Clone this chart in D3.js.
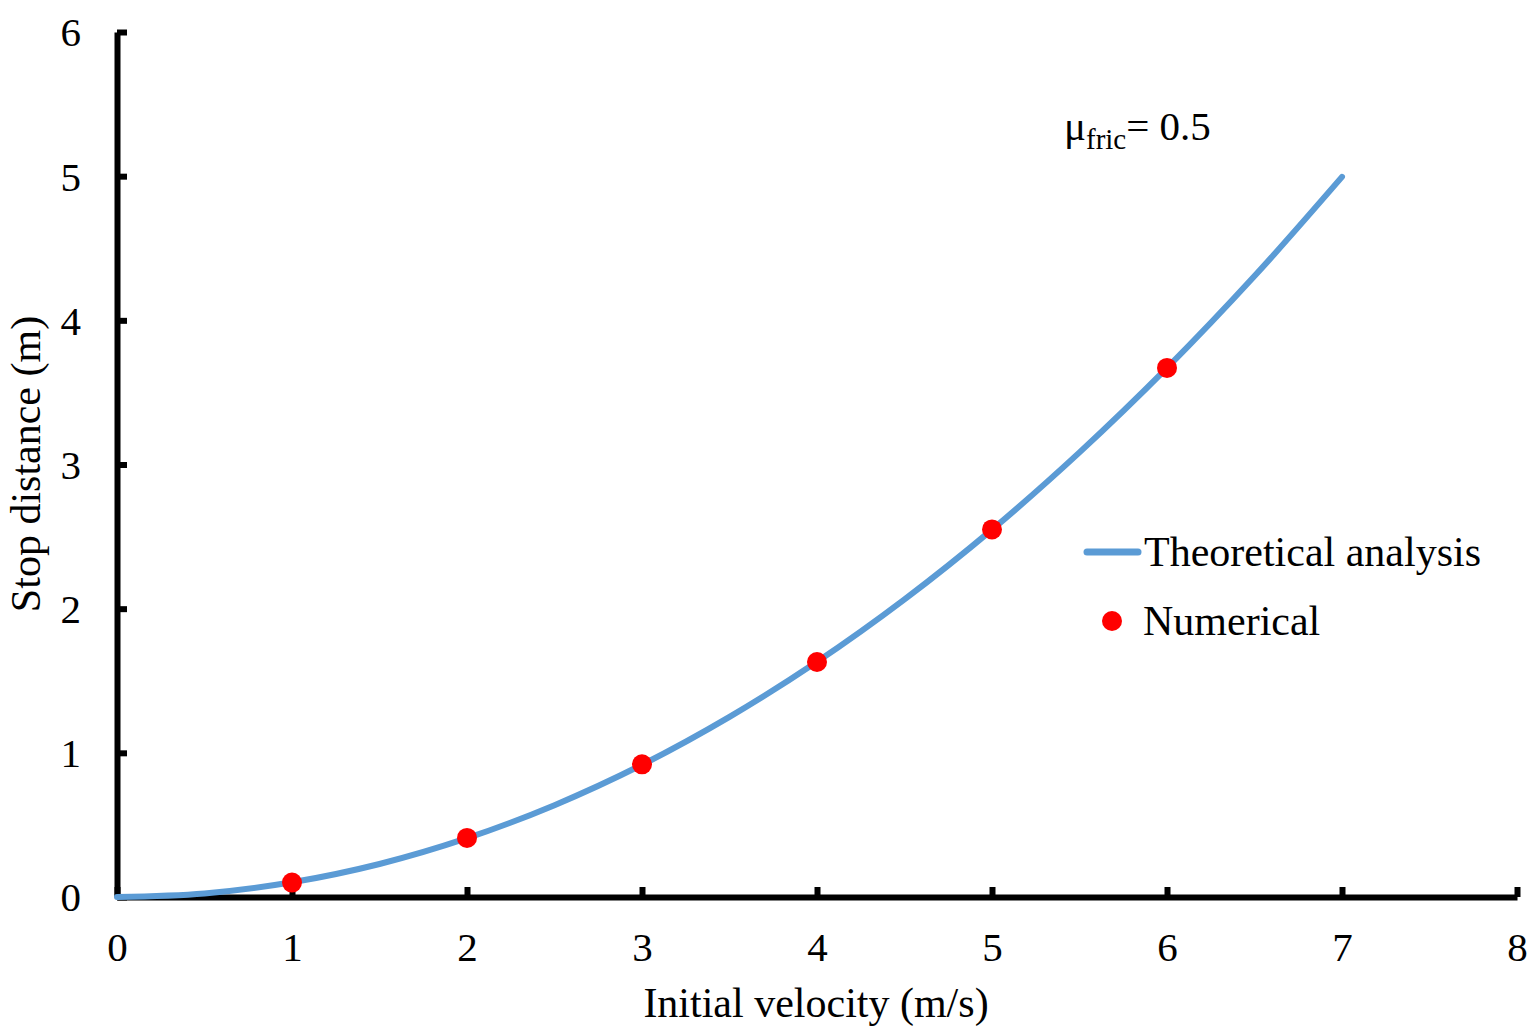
<!DOCTYPE html>
<html>
<head>
<meta charset="utf-8">
<script src="https://cdn.jsdelivr.net/npm/d3@7"></script>
<style>
  body { margin: 0; background: #fff; }
  svg text { font-family: "Liberation Serif", "Times New Roman", serif; fill: #000; }
</style>
</head>
<body>
<div id="chart"></div>
<script>
// initial velocity (m/s) and stop distance (m)
var theoryV = [0, 0.5, 1, 1.5, 2, 2.5, 3, 3.5, 4, 4.5, 5, 5.5, 6, 6.5, 7];
var theoryS = [0, 0.025, 0.102, 0.229, 0.408, 0.637, 0.917, 1.249, 1.631, 2.064, 2.548, 3.084, 3.670, 4.307, 4.995];
var numV = [1, 2, 3, 4, 5, 6];
var numS = [0.10, 0.41, 0.92, 1.63, 2.55, 3.67];
var xTicks = [0, 1, 2, 3, 4, 5, 6, 7, 8];
var yTicks = [0, 1, 2, 3, 4, 5, 6];

var width = 1538, height = 1035;
var blue = "#5B9BD5";

var svg = d3.select("#chart").append("svg")
  .attr("width", width)
  .attr("height", height);

var x = d3.scaleLinear().domain([0, 8]).range([117, 1517]);
var y = d3.scaleLinear().domain([0, 6]).range([897, 32]);

// axes: thick black lines, ticks pointing inward
var xAxis = svg.append("g")
  .attr("transform", "translate(0," + y(0) + ")")
  .call(d3.axisBottom(x).tickValues(xTicks).tickFormat(d3.format("d"))
    .tickSize(-10).tickSizeOuter(0).tickPadding(35));
var yAxis = svg.append("g")
  .attr("transform", "translate(" + x(0) + ",0)")
  .call(d3.axisLeft(y).tickValues(yTicks).tickFormat(d3.format("d"))
    .tickSize(-10).tickSizeOuter(0).tickPadding(36));

[xAxis, yAxis].forEach(function(a) {
  a.select(".domain").attr("stroke", "#000").attr("stroke-width", 6);
  a.selectAll(".tick line").attr("stroke", "#000").attr("stroke-width", 6);
  a.selectAll(".tick text")
    .style("font-family", "Liberation Serif, serif")
    .attr("font-size", 41)
    .attr("fill", "#000");
});
yAxis.selectAll(".tick text").attr("dy", "0.34em");

// theoretical curve
var line = d3.line()
  .x(function(d, i) { return x(theoryV[i]); })
  .y(function(d) { return y(d); })
  .curve(d3.curveCatmullRom);

svg.append("path")
  .datum(theoryS)
  .attr("d", line)
  .attr("fill", "none")
  .attr("stroke", blue)
  .attr("stroke-width", 6)
  .attr("stroke-linecap", "round");

// numerical results
svg.append("g").selectAll("circle")
  .data(numS)
  .enter().append("circle")
  .attr("cx", function(d, i) { return x(numV[i]); })
  .attr("cy", function(d) { return y(d); })
  .attr("r", 10)
  .attr("fill", "#ff0000");

// axis titles
svg.append("text")
  .attr("x", 816).attr("y", 1017)
  .attr("text-anchor", "middle")
  .attr("font-size", 42)
  .text("Initial velocity (m/s)");

svg.append("text")
  .attr("transform", "translate(40,464) rotate(-90)")
  .attr("text-anchor", "middle")
  .attr("font-size", 42)
  .text("Stop distance (m)");

// friction coefficient label
var mu = svg.append("text")
  .attr("x", 1064).attr("y", 140)
  .attr("font-size", 41);
mu.append("tspan").text("\u03bc");
mu.append("tspan").attr("font-size", 29).attr("dy", 9).text("fric");
mu.append("tspan").attr("dy", -9).text("= 0.5");

// legend
var legend = svg.append("g");
legend.append("line")
  .attr("x1", 1087).attr("x2", 1138)
  .attr("y1", 552).attr("y2", 552)
  .attr("stroke", blue).attr("stroke-width", 7)
  .attr("stroke-linecap", "round");
legend.append("text")
  .attr("x", 1144).attr("y", 566)
  .attr("font-size", 42)
  .text("Theoretical analysis");
legend.append("circle")
  .attr("cx", 1112).attr("cy", 621).attr("r", 10)
  .attr("fill", "#ff0000");
legend.append("text")
  .attr("x", 1143).attr("y", 635)
  .attr("font-size", 42)
  .text("Numerical");
</script>
</body>
</html>
